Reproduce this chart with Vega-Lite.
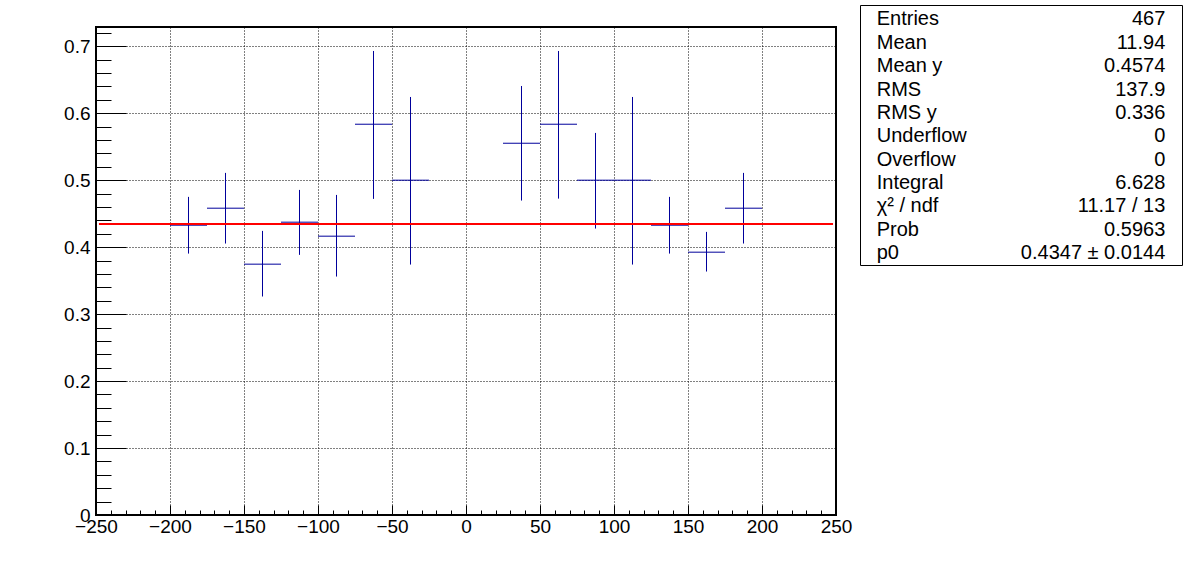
{
  "$schema": "https://vega.github.io/schema/vega-lite/v6.json",
  "background": "white",
  "padding": {"left": 0, "top": 4, "right": 0, "bottom": 0},
  "spacing": 6,
  "config": {"font": "Liberation Sans", "view": {"stroke": null}},
  "hconcat": [
    {
      "spacing": 8,
      "vconcat": [
        {
          "width": 740,
          "height": 13,
          "data": {"values": [{"t": ""}]},
          "mark": {"type": "text"},
          "encoding": {"text": {"field": "t"}}
        },
        {
          "width": 740,
          "height": 488,
          "view": {"stroke": "black", "strokeWidth": 2},
          "layer": [
            {
              "data": {"name": "profile", "values": [
                {"x": -187.5, "xlo": -200, "xhi": -175, "y": 0.4328, "lo": 0.3904, "hi": 0.4751},
                {"x": -162.5, "xlo": -175, "xhi": -150, "y": 0.4582, "lo": 0.4054, "hi": 0.5109},
                {"x": -137.5, "xlo": -150, "xhi": -125, "y": 0.3746, "lo": 0.3263, "hi": 0.4243},
                {"x": -112.5, "xlo": -125, "xhi": -100, "y": 0.4373, "lo": 0.3885, "hi": 0.4855},
                {"x": -87.5, "xlo": -100, "xhi": -75, "y": 0.4164, "lo": 0.3561, "hi": 0.4780},
                {"x": -62.5, "xlo": -75, "xhi": -50, "y": 0.5836, "lo": 0.4721, "hi": 0.6930},
                {"x": -37.5, "xlo": -50, "xhi": -25, "y": 0.5000, "lo": 0.3740, "hi": 0.6243},
                {"x": 37.5, "xlo": 25, "xhi": 50, "y": 0.5552, "lo": 0.4696, "hi": 0.6407},
                {"x": 62.5, "xlo": 50, "xhi": 75, "y": 0.5836, "lo": 0.4725, "hi": 0.6930},
                {"x": 87.5, "xlo": 75, "xhi": 100, "y": 0.5000, "lo": 0.4278, "hi": 0.5706},
                {"x": 112.5, "xlo": 100, "xhi": 125, "y": 0.5000, "lo": 0.3740, "hi": 0.6243},
                {"x": 137.5, "xlo": 125, "xhi": 150, "y": 0.4328, "lo": 0.3904, "hi": 0.4751},
                {"x": 162.5, "xlo": 150, "xhi": 175, "y": 0.3925, "lo": 0.3636, "hi": 0.4228},
                {"x": 187.5, "xlo": 175, "xhi": 200, "y": 0.4582, "lo": 0.4054, "hi": 0.5109}
              ]},
              "mark": {"type": "rule", "color": "#00009b", "strokeWidth": 1},
              "encoding": {
                "x": {"field": "x", "type": "quantitative",
                  "scale": {"domain": [-250, 250], "nice": false, "zero": false},
                  "axis": {"orient": "bottom", "values": [-250, -200, -150, -100, -50, 0, 50, 100, 150, 200, 250],
                    "format": "d", "tickSize": -10, "tickWidth": 1, "tickColor": "black",
                    "labelPadding": 12, "labelFontSize": 19, "labelColor": "black", "labelFont": "Liberation Sans",
                    "labelFlush": false, "labelOverlap": false,
                    "grid": true, "gridDash": [1, 2], "gridColor": "black", "gridWidth": 1, "gridOpacity": 1,
                    "domain": false, "title": null}},
                "y": {"field": "lo", "type": "quantitative",
                  "scale": {"domain": [0, 0.7288], "nice": false, "zero": false},
                  "axis": {"orient": "left", "values": [0, 0.1, 0.2, 0.3, 0.4, 0.5, 0.6, 0.7],
                    "format": "~g", "tickSize": -30, "tickWidth": 1, "tickColor": "black",
                    "labelPadding": 36, "labelFontSize": 19, "labelColor": "black", "labelFont": "Liberation Sans",
                    "labelFlush": false, "labelOverlap": false, "labelBaseline": "middle",
                    "grid": true, "gridDash": [1, 2], "gridColor": "black", "gridWidth": 1, "gridOpacity": 1,
                    "domain": false, "title": null, "minExtent": 95, "maxExtent": 95}},
                "y2": {"field": "hi"}
              }
            },
            {
              "data": {"name": "profile"},
              "mark": {"type": "rule", "color": "#00009b", "strokeWidth": 1},
              "encoding": {
                "x": {"field": "xlo", "type": "quantitative",
                  "scale": {"domain": [-250, 250], "nice": false, "zero": false},
                  "axis": {"orient": "bottom", "values": [-250, -240, -230, -220, -210, -200, -190, -180, -170, -160, -150, -140, -130, -120, -110, -100, -90, -80, -70, -60, -50, -40, -30, -20, -10, 0, 10, 20, 30, 40, 50, 60, 70, 80, 90, 100, 110, 120, 130, 140, 150, 160, 170, 180, 190, 200, 210, 220, 230, 240, 250],
                    "tickSize": -5, "tickWidth": 1, "tickColor": "black", "labels": false,
                    "grid": false, "domain": false, "title": null}},
                "x2": {"field": "xhi"},
                "y": {"field": "y", "type": "quantitative",
                  "scale": {"domain": [0, 0.7288], "nice": false, "zero": false},
                  "axis": {"orient": "left", "values": [0, 0.02, 0.04, 0.06, 0.08, 0.1, 0.12, 0.14, 0.16, 0.18, 0.2, 0.22, 0.24, 0.26, 0.28, 0.3, 0.32, 0.34, 0.36, 0.38, 0.4, 0.42, 0.44, 0.46, 0.48, 0.5, 0.52, 0.54, 0.56, 0.58, 0.6, 0.62, 0.64, 0.66, 0.68, 0.7, 0.72],
                    "tickSize": -15, "tickWidth": 1, "tickColor": "black", "labels": false,
                    "grid": false, "domain": false, "title": null}}
              }
            },
            {
              "data": {"values": [{"from": -248, "to": 248, "p0": 0.4347}]},
              "mark": {"type": "rule", "color": "#ff0000", "strokeWidth": 2},
              "encoding": {
                "x": {"field": "from", "type": "quantitative",
                  "scale": {"domain": [-250, 250], "nice": false, "zero": false}, "axis": null},
                "x2": {"field": "to"},
                "y": {"field": "p0", "type": "quantitative",
                  "scale": {"domain": [0, 0.7288], "nice": false, "zero": false}, "axis": null}
              }
            }
          ],
          "resolve": {"axis": {"x": "independent", "y": "independent"}}
        }
      ]
    },
    {
      "width": 322,
      "height": 260,
      "view": {"stroke": "black", "strokeWidth": 1},
      "data": {"values": [
        {"row": 1, "label": "Entries", "value": "467"},
        {"row": 2, "label": "Mean", "value": "11.94"},
        {"row": 3, "label": "Mean y", "value": "0.4574"},
        {"row": 4, "label": "RMS", "value": "137.9"},
        {"row": 5, "label": "RMS y", "value": "0.336"},
        {"row": 6, "label": "Underflow", "value": "0"},
        {"row": 7, "label": "Overflow", "value": "0"},
        {"row": 8, "label": "Integral", "value": "6.628"},
        {"row": 9, "label": "χ² / ndf", "value": "11.17 / 13"},
        {"row": 10, "label": "Prob", "value": "0.5963"},
        {"row": 11, "label": "p0", "value": "0.4347 ± 0.0144"}
      ]},
      "layer": [
        {
          "mark": {"type": "text", "align": "left", "baseline": "middle", "fontSize": 20, "font": "Liberation Sans", "color": "black"},
          "encoding": {
            "x": {"datum": 0, "type": "quantitative", "scale": {"domain": [-0.058, 1.058], "nice": false, "zero": false}, "axis": null},
            "y": {"field": "row", "type": "ordinal", "scale": {"type": "point", "padding": 0.563, "align": 0.55}, "axis": null},
            "text": {"field": "label"}
          }
        },
        {
          "mark": {"type": "text", "align": "right", "baseline": "middle", "fontSize": 20, "font": "Liberation Sans", "color": "black"},
          "encoding": {
            "x": {"datum": 1, "type": "quantitative", "scale": {"domain": [-0.058, 1.058], "nice": false, "zero": false}, "axis": null},
            "y": {"field": "row", "type": "ordinal", "scale": {"type": "point", "padding": 0.563, "align": 0.55}, "axis": null},
            "text": {"field": "value"}
          }
        }
      ]
    }
  ]
}
